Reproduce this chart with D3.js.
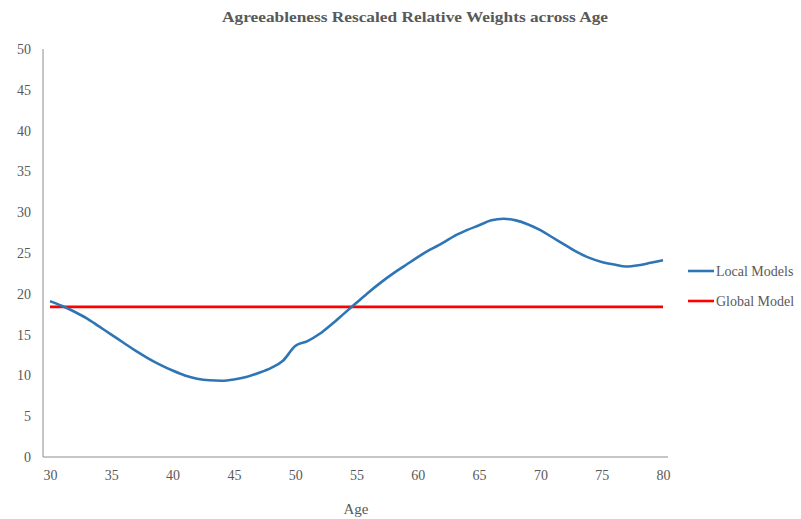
<!DOCTYPE html>
<html><head><meta charset="utf-8">
<script src="https://cdn.jsdelivr.net/npm/d3@7"></script>
<style>body{margin:0;background:#fff}svg{display:block}svg text{font-family:"Liberation Serif","Times New Roman",Times,"DejaVu Serif",serif !important}</style>
</head><body><svg id="c" width="801" height="519"></svg>
<script>
const ages = d3.range(30, 81);
const localModels = [19.1,18.5,17.8,17.0,16.0,15.0,14.0,13.0,12.1,11.3,10.6,10.0,9.6,9.4,9.35,9.5,9.8,10.3,10.9,11.8,13.6,14.2,15.1,16.3,17.6,18.9,20.2,21.4,22.5,23.5,24.5,25.4,26.2,27.1,27.8,28.4,29.0,29.2,29.0,28.5,27.8,26.9,26.0,25.1,24.4,23.9,23.6,23.35,23.5,23.8,24.1];
const globalModel = 18.4;
const yTicks = [0,5,10,15,20,25,30,35,40,45,50];
const xTicks = [30,35,40,45,50,55,60,65,70,75,80];
const seriesNames = ["Local Models","Global Model"];
const colors = ["#2E75B6","#FF0000"];

const svg = d3.select("#c");
const x = d3.scaleLinear().domain([30,80]).range([50,663]);
const y = d3.scaleLinear().domain([0,50]).range([457,49]);

svg.append("text").attr("x",415).attr("y",22).attr("text-anchor","middle")
  .attr("font-size",15.5).attr("font-weight","bold").attr("fill","#595959")
  .attr("textLength",386).attr("lengthAdjust","spacingAndGlyphs")
  .text("Agreeableness Rescaled Relative Weights across Age");

svg.append("line").attr("x1",43).attr("x2",43).attr("y1",y(50)).attr("y2",y(0)).attr("stroke","#8c8c8c").attr("stroke-width",1);
svg.append("line").attr("x1",43).attr("x2",668).attr("y1",y(0)).attr("y2",y(0)).attr("stroke","#8c8c8c").attr("stroke-width",1);

const ya = d3.axisLeft(y).tickValues(yTicks).tickSize(0).tickPadding(0);
const gy = svg.append("g").attr("transform","translate(31,0)").call(ya);
gy.select(".domain").remove();
gy.selectAll("text").attr("font-size",14).attr("fill","#595959");

const xa = d3.axisBottom(x).tickValues(xTicks).tickSize(0).tickPadding(0);
const gx = svg.append("g").attr("transform","translate(0,470)").call(xa);
gx.select(".domain").remove();
gx.selectAll("text").attr("font-size",14).attr("fill","#595959");

svg.append("text").attr("x",356).attr("y",514).attr("text-anchor","middle")
  .attr("font-size",15).attr("fill","#595959").text("Age");

const line = d3.line().x((d,i)=>x(ages[i])).y(d=>y(d)).curve(d3.curveMonotoneX);
svg.append("path").datum(ages.map(()=>globalModel)).attr("d",line)
  .attr("fill","none").attr("stroke",colors[1]).attr("stroke-width",2.6);
svg.append("path").datum(localModels).attr("d",line)
  .attr("fill","none").attr("stroke",colors[0]).attr("stroke-width",2.6);

const lg = svg.append("g");
seriesNames.forEach((n,i)=>{
  const yy = 271 + i*30;
  lg.append("line").attr("x1",688).attr("x2",714).attr("y1",yy).attr("y2",yy).attr("stroke",colors[i]).attr("stroke-width",2.6);
  lg.append("text").attr("x",716).attr("y",yy+5).attr("font-size",14).attr("fill","#595959").text(n);
});
</script></body></html>
